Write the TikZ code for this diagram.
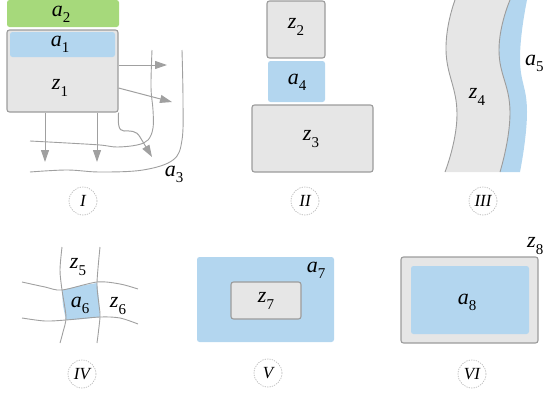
\documentclass[tikz,border=0pt]{standalone}
\usepackage{fontspec}
\setmainfont{Liberation Serif}
\usetikzlibrary{arrows.meta}
\definecolor{zfill}{HTML}{E6E6E6}
\definecolor{zline}{HTML}{9C9C9C}
\definecolor{ablue}{HTML}{B3D6EF}
\definecolor{agreen}{HTML}{A6D97B}
\definecolor{cline}{HTML}{A0A0A0}
\newcommand\lb[2]{\textit{#1}\raisebox{-0.28em}{\fontsize{15}{15}\selectfont #2}}
\tikzset{
  zbox/.style={draw=zline, fill=zfill, line width=1.1pt, rounded corners=2.5pt, inner sep=0pt},
  abox/.style={fill=ablue, rounded corners=2.5pt, inner sep=0pt},
  gbox/.style={fill=agreen, rounded corners=2.5pt, inner sep=0pt},
  lbl/.style={inner sep=0pt, font=\fontsize{22}{22}\selectfont},
  numc/.style={circle, draw=gray!60, dash pattern=on 1.3pt off 1.1pt, line width=0.6pt,
    minimum size=28pt, inner sep=0pt, font=\fontsize{17}{17}\selectfont\itshape},
  crv/.style={draw=cline, line width=0.9pt},
  arr/.style={draw=cline, line width=1pt, -{Triangle[length=12pt,width=8pt]}},
}
\begin{document}
\begin{tikzpicture}[x=1pt,y=-1pt]
\useasboundingbox (0,0) rectangle (544,394);

% ---------- Panel I ----------
\draw[crv] plot[smooth, tension=0.6] coordinates {(30,141) (67,143) (100,145) (117,147) (137,145) (148,140) (153,128) (153,110) (151,87) (152,50)};
\draw[crv] plot[smooth, tension=0.6] coordinates {(30,172) (67,170) (100,172) (143,170) (173,160) (182,140) (183,100) (182,50)};
\node[gbox, minimum width=112pt, minimum height=27pt] (a2box) at (63,13.5) {};
\node[lbl] (a2) at (61,14) {\lb{a}{2}};
\node[zbox, minimum width=111pt, minimum height=82pt] (z1box) at (62.5,71) {};
\node[abox, minimum width=105pt, minimum height=25pt] (a1box) at (62.5,44.5) {};
\node[lbl] (a1) at (60,44) {\lb{a}{1}};
\node[lbl] (z1) at (60,88) {\lb{z}{1}};
\coordinate (e1) at (167,65);
\coordinate (e2) at (172,102);
\coordinate (e3) at (45,162);
\coordinate (e4) at (97,162);
\coordinate (e5) at (152,157);
\draw[arr] (z1box.east |- e1) -- (e1);
\draw[arr] (z1box.east |- 0,88) -- (e2);
\draw[arr] (z1box.south -| e3) -- (e3);
\draw[arr] (z1box.south -| e4) -- (e4);
\draw[arr] (z1box.south east) .. controls (118,123) and (118,131) .. (124,131)
   .. controls (130,131) and (136,130) .. (140,137) -- (e5);
\node[lbl] (a3) at (174,174) {\lb{a}{3}};
\node[numc] (n1) at (83,201) {I};

% ---------- Panel II ----------
\node[zbox, minimum width=58pt, minimum height=57pt] (z2box) at (296,29.5) {};
\node[lbl] (z2) at (296,27) {\lb{z}{2}};
\node[abox, minimum width=57pt, minimum height=41pt] (a4box) at (296.5,81.5) {};
\node[lbl] (a4) at (297,82) {\lb{a}{4}};
\node[zbox, minimum width=121pt, minimum height=67pt] (z3box) at (312.5,138.5) {};
\node[lbl] (z3) at (311,139) {\lb{z}{3}};
\node[numc] (n2) at (305,201) {II};

% ---------- Panel III ----------
\fill[ablue] plot[smooth, tension=0.8] coordinates {(510,0) (499,50) (510,112) (500,172)}
  -- plot[smooth, tension=0.8] coordinates {(520,172) (527,112) (520,58) (527,0)} -- cycle;
\fill[zfill] plot[smooth, tension=0.8] coordinates {(455,0) (446,50) (457,115) (445,172)}
  -- plot[smooth, tension=0.8] coordinates {(500,172) (510,112) (499,50) (510,0)} -- cycle;
\draw[crv, draw=zline] plot[smooth, tension=0.8] coordinates {(455,0) (446,50) (457,115) (445,172)};
\draw[crv, draw=zline] plot[smooth, tension=0.8] coordinates {(510,0) (499,50) (510,112) (500,172)};
\node[lbl] (z4) at (477,97) {\lb{z}{4}};
\node[lbl, anchor=west] (a5) at (525,63) {\lb{a}{5}};
\node[numc] (n3) at (483,201) {III};

% ---------- Panel IV ----------
\fill[ablue] plot[smooth] coordinates {(62,290) (80,286) (97,283)}
  -- plot[smooth] coordinates {(97,283) (99,300) (100,317)}
  -- plot[smooth] coordinates {(100,317) (83,319) (66,320)}
  -- plot[smooth] coordinates {(66,320) (63,305) (62,290)} -- cycle;
\draw[crv] plot[smooth] coordinates {(62,247) (60,270) (62,290) (66,317) (63,332) (60,343)};
\draw[crv] plot[smooth] coordinates {(100,247) (97,283) (99,305) (100,317) (97,343)};
\draw[crv] plot[smooth] coordinates {(22,282) (45,287) (62,290) (97,282) (120,284) (138,289)};
\draw[crv] plot[smooth] coordinates {(22,318) (45,321) (66,320) (100,317) (120,318) (138,324)};
\node[lbl] (z5) at (78,267) {\lb{z}{5}};
\node[lbl] (a6) at (80,305) {\lb{a}{6}};
\node[lbl] (z6) at (118,306) {\lb{z}{6}};
\node[numc] (n4) at (82,374) {IV};

% ---------- Panel V ----------
\node[abox, minimum width=137pt, minimum height=85pt] (a7box) at (265.5,299.5) {};
\node[zbox, minimum width=70pt, minimum height=37pt] (z7box) at (266,300.5) {};
\node[lbl] (z7) at (266,301) {\lb{z}{7}};
\node[lbl] (a7) at (316,270) {\lb{a}{7}};
\node[numc] (n5) at (268,373) {V};

% ---------- Panel VI ----------
\node[zbox, minimum width=137pt, minimum height=86pt] (z8box) at (469.5,300) {};
\node[abox, minimum width=118pt, minimum height=68pt] (a8box) at (470,300) {};
\node[lbl] (a8) at (467,302) {\lb{a}{8}};
\node[lbl, anchor=west] (z8) at (527,246) {\lb{z}{8}};
\node[numc] (n6) at (472,374) {VI};
\end{tikzpicture}
\end{document}
